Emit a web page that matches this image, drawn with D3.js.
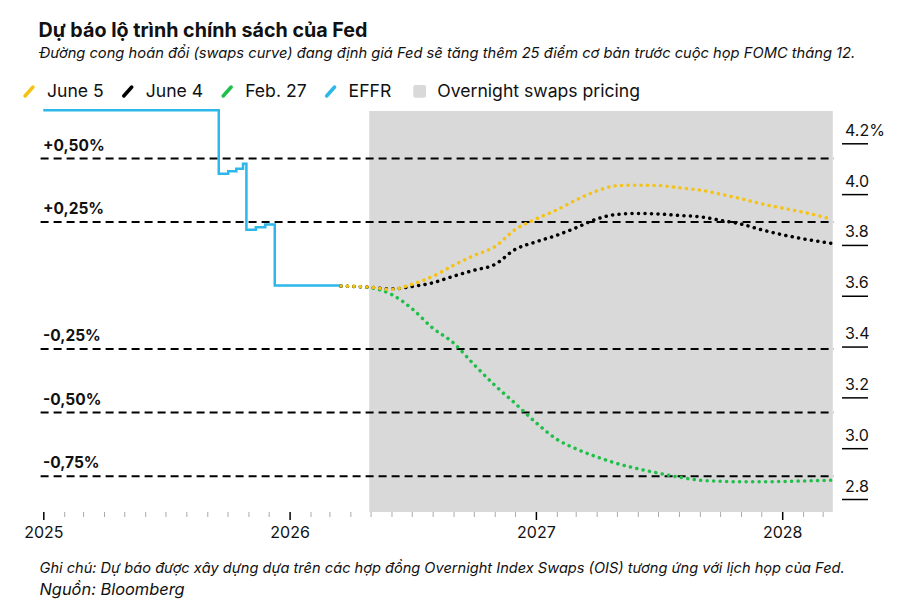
<!DOCTYPE html>
<html>
<head>
<meta charset="utf-8">
<script src="https://cdn.jsdelivr.net/npm/d3@7"></script>
<style>
	body { margin: 0; background: #fff; }
	text { font-family: Inter, "Liberation Sans", sans-serif; fill: #111; }
</style>
</head>
<body>
<svg id="chart" width="903" height="607"></svg>
<script>

// effective fed funds rate, step series
var effrDates = ["2025-01-01", "2025-09-18", "2025-10-02", "2025-10-14", "2025-10-24",
	"2025-10-29", "2025-11-12", "2025-11-26", "2025-12-10", "2026-03-18"];
var effrValues = [4.33, 4.08, 4.09, 4.10, 4.12, 3.86, 3.87, 3.88, 3.64, 3.64];

// swaps curves
var forecastDates = ["2026-03-18", "2026-04-29", "2026-06-01", "2026-07-01", "2026-08-01",
	"2026-09-01", "2026-10-01", "2026-11-01", "2026-12-01", "2027-01-01", "2027-02-01",
	"2027-03-01", "2027-04-01", "2027-05-01", "2027-06-01", "2027-07-01", "2027-08-01",
	"2027-09-01", "2027-10-01", "2027-11-01", "2027-12-01", "2028-01-01", "2028-02-01",
	"2028-03-15"];
var june5 = [3.638, 3.634, 3.625, 3.645, 3.676, 3.720, 3.758, 3.793, 3.860, 3.902, 3.938,
	3.976, 4.012, 4.033, 4.035, 4.034, 4.025, 4.016, 4.000, 3.982, 3.962, 3.945, 3.929, 3.901];
var june4 = [3.638, 3.634, 3.627, 3.636, 3.651, 3.677, 3.700, 3.723, 3.782, 3.812, 3.838,
	3.867, 3.902, 3.920, 3.924, 3.922, 3.916, 3.911, 3.897, 3.882, 3.860, 3.840, 3.824, 3.806];
var feb27 = [3.638, 3.632, 3.605, 3.550, 3.473, 3.414, 3.330, 3.248, 3.177, 3.101, 3.035,
	2.998, 2.966, 2.940, 2.919, 2.902, 2.886, 2.874, 2.870, 2.868, 2.868, 2.869, 2.871, 2.874];

var rateTicks = [2.8, 3.0, 3.2, 3.4, 3.6, 3.8, 4.0, 4.2];
var baseRate = 3.64;
var offsets = [0.5, 0.25, -0.25, -0.5, -0.75];
var offsetLabels = ["+0,50%", "+0,25%", "-0,25%", "-0,50%", "-0,75%"];
var pricingStart = "2026-04-29";

var legendNames = ["June 5", "June 4", "Feb. 27", "EFFR", "Overnight swaps pricing"];
var legendColours = ["#f4c316", "#000000", "#1fbf4a", "#2db7ea", "#d9d9d9"];

var parse = d3.utcParse("%Y-%m-%d");
var START = parse("2024-12-28");
var END = parse("2028-03-16");
var TOP = 111, BOTTOM = 512;

var svg = d3.select("#chart");

var x = d3.scaleUtc()
	.domain([parse("2025-01-01"), parse("2028-01-01")])
	.range([43.3, 782.2]);

var y = d3.scaleLinear()
	.domain([2.8, 4.2])
	.range([499, 143.3]);

// shaded pricing window
svg.append("rect")
	.attr("x", x(parse(pricingStart)))
	.attr("y", TOP)
	.attr("width", x(END) - x(parse(pricingStart)))
	.attr("height", BOTTOM - TOP)
	.style("fill", "#d9d9d9");

// dashed move lines around current rate
svg.selectAll(".move")
	.data(offsets)
	.enter().append("line")
	.attr("class", "move")
	.attr("x1", x(START))
	.attr("x2", x(END) + 1)
	.attr("y1", function(d) { return y(baseRate + d); })
	.attr("y2", function(d) { return y(baseRate + d); })
	.style("stroke", "#000")
	.style("stroke-width", 2)
	.style("stroke-dasharray", "8,5");

svg.selectAll(".moveLabel")
	.data(offsets)
	.enter().append("text")
	.attr("class", "moveLabel")
	.attr("x", 43)
	.attr("y", function(d) { return y(baseRate + d) - 8; })
	.style("font-size", "15.5px")
	.style("font-weight", "bold")
	.text(function(d, i) { return offsetLabels[i]; });

// effr
var effr = effrDates.map(function(d, i) { return { date: parse(d), value: effrValues[i] }; });

svg.append("path")
	.datum(effr)
	.attr("d", d3.line()
		.x(function(d) { return x(d.date); })
		.y(function(d) { return y(d.value); })
		.curve(d3.curveStepAfter))
	.style("fill", "none")
	.style("stroke", legendColours[3])
	.style("stroke-width", 2.5);

// forecast curves
var curves = [
	{ values: feb27, colour: legendColours[2] },
	{ values: june4, colour: legendColours[1] },
	{ values: june5, colour: legendColours[0] }
];

var curveLine = d3.line()
	.x(function(d) { return x(d.date); })
	.y(function(d) { return y(d.value); })
	.curve(d3.curveMonotoneX);

svg.selectAll(".curve")
	.data(curves)
	.enter().append("path")
	.attr("class", "curve")
	.attr("d", function(c) {
		return curveLine(forecastDates.map(function(d, i) { return { date: parse(d), value: c.values[i] }; }));
	})
	.style("fill", "none")
	.style("stroke", function(c) { return c.colour; })
	.style("stroke-width", 3.5)
	.style("stroke-linecap", "round")
	.style("stroke-dasharray", "0.1,6.4");

// x axis: monthly minor ticks and yearly major ticks
var minor = svg.append("g")
	.attr("transform", "translate(0," + BOTTOM + ")")
	.call(d3.axisBottom(x)
		.tickValues(d3.utcMonth.range(parse("2025-01-01"), END).filter(function(d) { return d.getUTCMonth() != 0; }))
		.tickSize(5)
		.tickFormat(""));
minor.select(".domain").remove();
minor.selectAll("line").style("stroke", "#aaa");

var major = svg.append("g")
	.attr("transform", "translate(0," + BOTTOM + ")")
	.call(d3.axisBottom(x)
		.ticks(d3.utcYear)
		.tickSize(8)
		.tickPadding(7)
		.tickFormat(d3.utcFormat("%Y")));
major.select(".domain").remove();
major.selectAll("line").style("stroke", "#000").style("stroke-width", 1.5);
major.selectAll("text")
	.style("font-size", "16px")
	.style("font-family", "Inter, sans-serif")
	.style("fill", "#111");

// right axis: label sits on top of a short rule
var right = svg.append("g")
	.attr("transform", "translate(842,0)")
	.call(d3.axisRight(y)
		.tickValues(rateTicks)
		.tickSize(26)
		.tickFormat(function(d) { return d == 4.2 ? "4.2%" : d.toFixed(1); }));
right.select(".domain").remove();
right.selectAll("line").style("stroke", "#000").style("stroke-width", 1.5);
right.selectAll("text")
	.attr("x", 3)
	.attr("y", -8)
	.attr("dy", null)
	.attr("text-anchor", "start")
	.style("font-size", "16px")
	.style("font-family", "Inter, sans-serif")
	.style("fill", "#111");

// titles
svg.append("text")
	.attr("x", 38.5)
	.attr("y", 36.5)
	.style("font-size", "19.7px")
	.style("font-weight", "bold")
	.text("Dự báo lộ trình chính sách của Fed");

svg.append("text")
	.attr("x", 39.5)
	.attr("y", 58.3)
	.style("font-size", "14.7px")
	.style("font-style", "italic")
	.text("Đường cong hoán đổi (swaps curve) đang định giá Fed sẽ tăng thêm 25 điểm cơ bản trước cuộc họp FOMC tháng 12.");

// legend
var cursor = 24;
legendNames.forEach(function(name, i) {
	var textX;
	if (i < 4) {
		svg.append("line")
			.attr("x1", cursor + 1).attr("y1", 96)
			.attr("x2", cursor + 9).attr("y2", 87)
			.style("stroke", legendColours[i])
			.style("stroke-width", 3.5)
			.style("stroke-linecap", "round");
		textX = cursor + 23;
	} else {
		cursor += 3;
		svg.append("rect")
			.attr("x", cursor).attr("y", 85)
			.attr("width", 12.7).attr("height", 12.7)
			.attr("rx", 2)
			.style("fill", legendColours[i]);
		textX = cursor + 24;
	}
	var t = svg.append("text")
		.attr("x", textX)
		.attr("y", 97.3)
		.style("font-size", "17.6px")
		.text(name);
	cursor = textX + t.node().getComputedTextLength() + 19;
});

// footer
svg.append("text")
	.attr("x", 39.5)
	.attr("y", 573)
	.style("font-size", "14.6px")
	.style("font-style", "italic")
	.text("Ghi chú: Dự báo được xây dựng dựa trên các hợp đồng Overnight Index Swaps (OIS) tương ứng với lịch họp của Fed.");

svg.append("text")
	.attr("x", 39.5)
	.attr("y", 595)
	.style("font-size", "16.4px")
	.style("font-style", "italic")
	.text("Nguồn: Bloomberg");

</script>
</body>
</html>
